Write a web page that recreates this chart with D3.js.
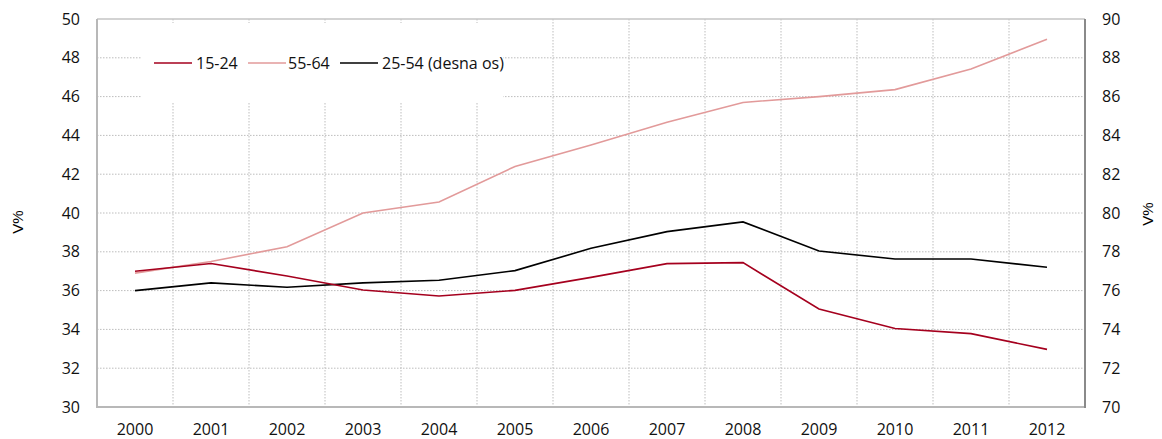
<!DOCTYPE html>
<html><head><meta charset="utf-8">
<script src="https://cdn.jsdelivr.net/npm/d3@7/dist/d3.min.js"></script>
<style>
body{margin:0;background:#fff;}
svg text{font-family:"Open Sans","Noto Sans",sans-serif;}
</style></head>
<body><svg id="c" width="1162" height="439"></svg>
<script>
const years = ["2000","2001","2002","2003","2004","2005","2006","2007","2008","2009","2010","2011","2012"];
const s1524 = [37.0,37.4,36.75,36.03,35.72,36.01,36.68,37.39,37.44,35.05,34.05,33.78,32.97];
const s5564 = [36.9,37.5,38.26,40.0,40.57,42.4,43.5,44.68,45.7,46.0,46.36,47.42,48.95];
const s2554 = [76.0,76.4,76.17,76.4,76.53,77.03,78.18,79.04,79.54,78.04,77.63,77.63,77.2];
const leftTicks = [30,32,34,36,38,40,42,44,46,48,50];
const rightTicks = [70,72,74,76,78,80,82,84,86,88,90];
const seriesNames = ["15-24","55-64","25-54 (desna os)"];
const colors = ["#a5001e","#e29a9a","#000000"];

const L=97,R=1085,T=19,B=407;
const svg=d3.select("#c");
const x=d3.scaleBand().domain(years).range([L,R]).padding(0);
const yl=d3.scaleLinear().domain([30,50]).range([B,T]);
const yr=d3.scaleLinear().domain([70,90]).range([B,T]);
const cx=d=>x(d)+x.bandwidth()/2;

// grid
const grid=svg.append("g");
leftTicks.forEach(t=>{ if(t===30||t===50) return;
  grid.append("line").attr("x1",L).attr("x2",R).attr("y1",yl(t)).attr("y2",yl(t))
   .attr("stroke","#bdbdbd").attr("stroke-width",1).attr("stroke-dasharray","1.5,1.5");});
years.slice(1).forEach(y=>{
  grid.append("line").attr("x1",x(y)).attr("x2",x(y)).attr("y1",T).attr("y2",B)
   .attr("stroke","#bdbdbd").attr("stroke-width",1).attr("stroke-dasharray","1.5,1.5");});
// legend box covering grid
svg.append("rect").attr("x",141).attr("y",23).attr("width",362).attr("height",79).attr("fill","#fff");

// frame
svg.append("line").attr("x1",L).attr("x2",R).attr("y1",T).attr("y2",T).attr("stroke","#c4c4c4").attr("stroke-width",1.5);
svg.append("line").attr("x1",L).attr("x2",L).attr("y1",T).attr("y2",B+1).attr("stroke","#b8b8b8").attr("stroke-width",2);
svg.append("line").attr("x1",L).attr("x2",R).attr("y1",B).attr("y2",B).attr("stroke","#b8b8b8").attr("stroke-width",2);
svg.append("line").attr("x1",R).attr("x2",R).attr("y1",T).attr("y2",B+1).attr("stroke","#8a8a8a").attr("stroke-width",2);

// axes
const fs="16px";
const ax=svg.append("g").attr("transform",`translate(0,${B})`).call(d3.axisBottom(x).tickSize(0).tickPadding(17));
ax.select(".domain").remove();
ax.selectAll("text").attr("font-size",fs).attr("fill","#111");
const al=svg.append("g").attr("transform",`translate(${L},0)`).call(d3.axisLeft(yl).tickValues(leftTicks).tickSize(0).tickPadding(17));
al.select(".domain").remove();
al.selectAll("text").attr("font-size",fs).attr("fill","#111");
const ar=svg.append("g").attr("transform",`translate(${R},0)`).call(d3.axisRight(yr).tickValues(rightTicks).tickSize(0).tickPadding(17));
ar.select(".domain").remove();
ar.selectAll("text").attr("font-size",fs).attr("fill","#111");

svg.append("text").attr("transform","translate(23,222) rotate(-90)").attr("text-anchor","middle")
  .attr("font-size","15px").style("font-family","'Liberation Sans',Arial,sans-serif").text("V%");
svg.append("text").attr("transform","translate(1153,214) rotate(-90)").attr("text-anchor","middle")
  .attr("font-size","15px").style("font-family","'Liberation Sans',Arial,sans-serif").text("V%");

// lines
const lineL=d3.line().x((d,i)=>cx(years[i])).y(d=>yl(d));
const lineR=d3.line().x((d,i)=>cx(years[i])).y(d=>yr(d));
svg.append("path").datum(s5564).attr("d",lineL).attr("fill","none").attr("stroke",colors[1]).attr("stroke-width",1.6);
svg.append("path").datum(s2554).attr("d",lineR).attr("fill","none").attr("stroke",colors[2]).attr("stroke-width",1.6);
svg.append("path").datum(s1524).attr("d",lineL).attr("fill","none").attr("stroke",colors[0]).attr("stroke-width",1.6);

// legend
const lg=[{x:154,tx:196},{x:248,tx:288},{x:340,tx:382}];
lg.forEach((p,i)=>{
  svg.append("line").attr("x1",p.x).attr("x2",p.x+38).attr("y1",63).attr("y2",63).attr("stroke",colors[i]).attr("stroke-width",1.6);
  svg.append("text").attr("x",p.tx).attr("y",63).attr("dy","0.35em").attr("font-size",fs).attr("fill","#111").text(seriesNames[i]);
});
</script></body></html>
